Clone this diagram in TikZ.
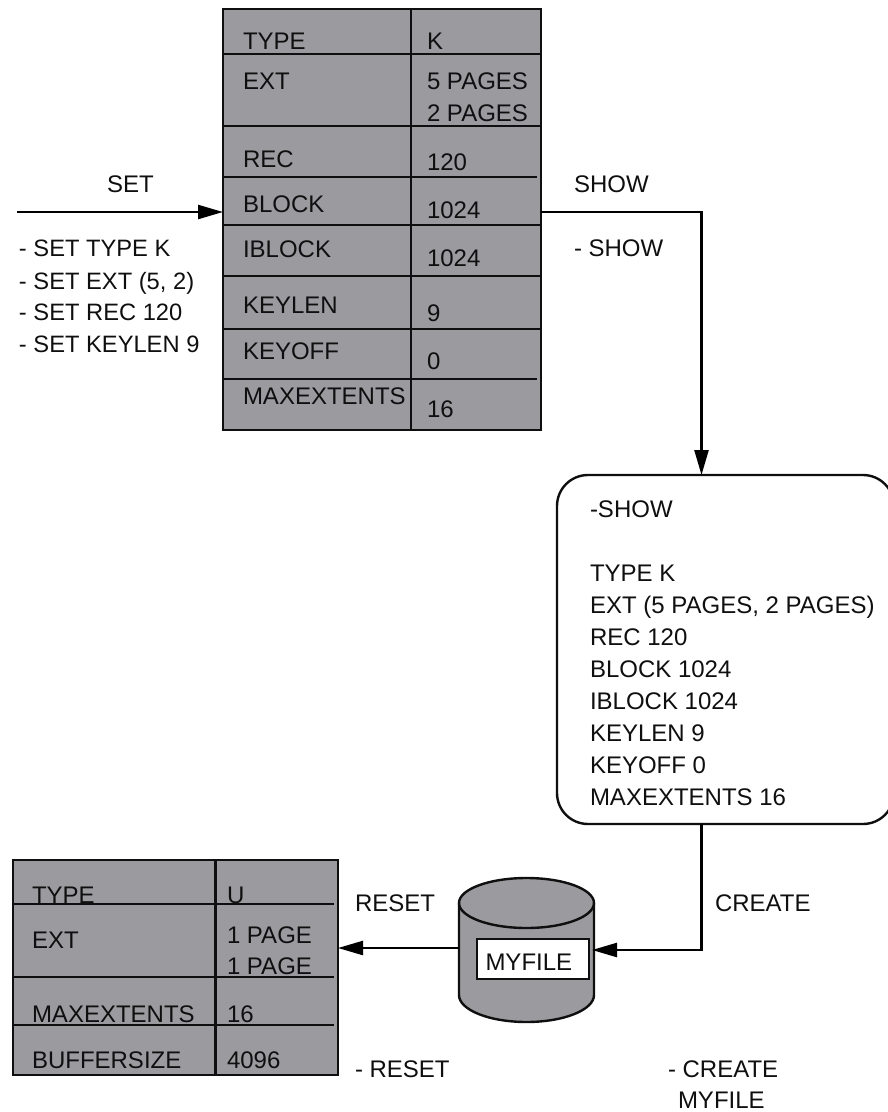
\documentclass[tikz,border=0pt]{standalone}
\usepackage{fontspec}
\usetikzlibrary{arrows.meta}
\setmainfont{Liberation Sans}
\definecolor{panel}{RGB}{155,154,159}
\definecolor{ink}{RGB}{15,15,15}
\tikzset{
  lbl/.style={anchor=base west,inner sep=0pt,outer sep=0pt,text=ink,font=\fontsize{24}{28}\selectfont},
  panelbox/.style={draw=ink,fill=panel,line width=2.8pt,inner sep=0pt,outer sep=0pt,anchor=north west},
  rule/.style={draw=ink,line width=2.4pt},
  flow/.style={draw=black,line width=2.4pt},
  flowtip/.style={flow,-{Triangle[length=25pt,width=14pt]}}
}
\begin{document}
\begin{tikzpicture}[x=1pt,y=-1pt]
\useasboundingbox (0,0) rectangle (887,1112);
% top table
\node[panelbox,minimum width=318pt,minimum height=421pt] (T) at (223,9) {};
\draw[rule] (411,9) -- (411,430);
\foreach \y/\e in {54/541,126/541,177/537,225/541,276/541,329/541,379/537}
  \draw[rule] (223,\y) -- (\e,\y);
\foreach \t/\y in {TYPE/49,EXT/89,REC/167,BLOCK/212,IBLOCK/257,KEYLEN/313,KEYOFF/359,MAXEXTENTS/404}
  \node[lbl] at (243,\y) {\t};
\foreach \t/\y in {K/49,5 PAGES/89,2 PAGES/121,120/170,1024/218,1024/266,9/321,0/369,16/417}
  \node[lbl] at (427,\y) {\t};
% SET flow
\coordinate (setstart) at (17,212);
\coordinate (setend) at (223,212);
\draw[flowtip] (setstart) -- (setend);
\node[lbl] at (107,192) {SET};
\foreach \t/\y in {- SET TYPE K/256,{- SET EXT (5, 2)}/289,- SET REC 120/320,- SET KEYLEN 9/352}
  \node[lbl,font=\fontsize{23.7}{28}\selectfont] at (19,\y) {\t};
% SHOW flow
\node[lbl] at (574,192) {SHOW};
\node[lbl] at (574,256) {- SHOW};
\node[draw=ink,line width=2.4pt,fill=white,rounded corners=31pt,minimum width=337pt,minimum height=349pt,inner sep=0pt,outer sep=0pt,anchor=north west] (R) at (557,475) {};
\coordinate (showstart) at (541,212);
\coordinate (showturn) at (701.5,212);
\coordinate (showend) at (701.5,475);
\draw[flowtip] (showstart) -- (showturn) -- (showend);
\foreach \t/\y in {-SHOW/517,TYPE K/581,{EXT (5 PAGES, 2 PAGES)}/613,REC 120/645,BLOCK 1024/677,IBLOCK 1024/709,KEYLEN 9/741,KEYOFF 0/773,MAXEXTENTS 16/805}
  \node[lbl] at (590,\y) {\t};
% cylinder
\draw[draw=ink,fill=panel,line width=2.4pt] (459,903) -- (459,995) arc[start angle=180,end angle=360,x radius=67.5,y radius=-27] -- (594,903) arc[start angle=0,end angle=180,x radius=67.5,y radius=-25] -- cycle;
\draw[draw=ink,line width=2.4pt] (459,903) arc[start angle=180,end angle=360,x radius=67.5,y radius=-25];
\node[draw=ink,fill=white,line width=2.4pt,minimum width=112pt,minimum height=40pt,inner sep=0pt,outer sep=0pt,anchor=north west] (F) at (477,939) {};
\node[lbl] at (485.5,970) {MYFILE};
% CREATE flow
\coordinate (createstart) at (701.5,824);
\coordinate (createturn) at (701.5,950);
\coordinate (createend) at (592,950);
\draw[flowtip] (createstart) -- (createturn) -- (createend);
\node[lbl] at (715,911) {CREATE};
\node[lbl] at (668,1077) {- CREATE};
\node[lbl] at (678,1108) {MYFILE};
% bottom table
\node[panelbox,minimum width=325pt,minimum height=215pt] (B) at (13,860) {};
\draw[rule] (215.5,860) -- (215.5,1075);
\foreach \y in {904,977,1025}
  \draw[rule] (13,\y) -- (334,\y);
\foreach \t/\y in {TYPE/903,EXT/948,MAXEXTENTS/1022,BUFFERSIZE/1068}
  \node[lbl] at (32,\y) {\t};
\foreach \t/\y in {U/903,1 PAGE/943,1 PAGE/974,16/1022,4096/1068}
  \node[lbl] at (227,\y) {\t};
% RESET flow
\coordinate (resetstart) at (459,948);
\coordinate (resetend) at (338,948);
\draw[flowtip] (resetstart) -- (resetend);
\node[lbl] at (355,911) {RESET};
\node[lbl] at (355,1077) {- RESET};
\end{tikzpicture}
\end{document}
